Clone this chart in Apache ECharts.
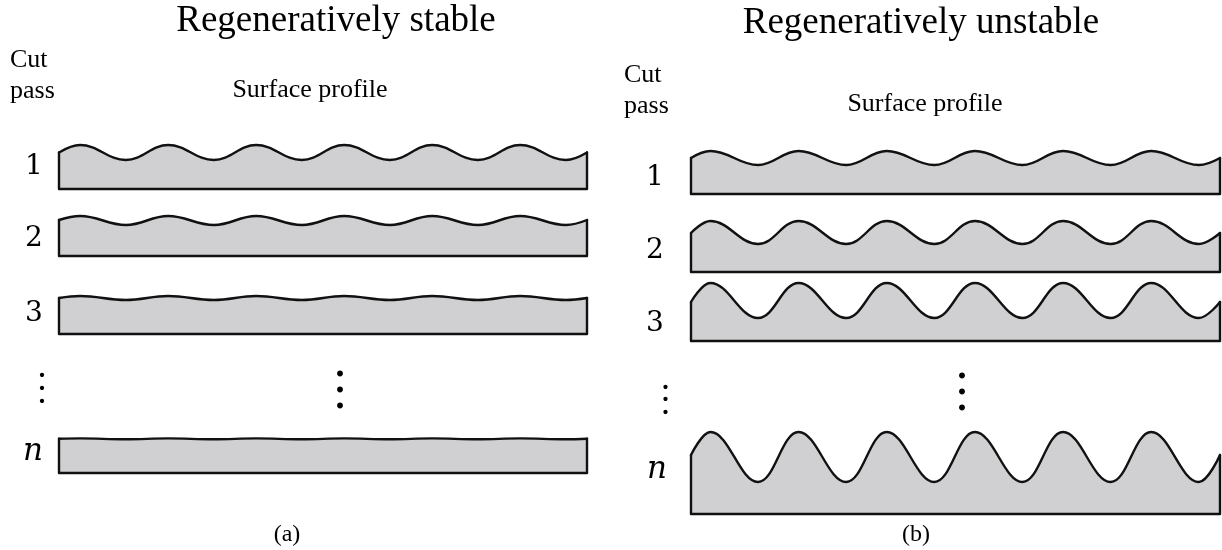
<!DOCTYPE html>
<html><head><meta charset="utf-8">
<script src="https://cdn.jsdelivr.net/npm/echarts@6/dist/echarts.min.js"></script>
<style>html,body{margin:0;padding:0;background:#fff}#c{width:1222px;height:550px}</style>
</head><body><div id="c"></div>
<script>
// ---------------- data ----------------
const passLabels = ['1', '2', '3', 'n'];
// crest / trough positions along each strip (in wavelengths from its left end; strip = 6 wavelengths)
const stableCrestX = [0.24, 1.24, 2.24, 3.24, 4.24, 5.24];
const stableTroughX = [0.76, 1.76, 2.76, 3.76, 4.76, 5.76];
const unstableCrestX = [0.22, 1.22, 2.22, 3.22, 4.22, 5.22];
const unstableTroughX = [0.76, 1.76, 2.76, 3.76, 4.76, 5.76];
// surface height above strip base for cut passes 1, 2, 3, n
const stableCrest = [44, 40, 38, 34.6];
const stableTrough = [29, 31, 34, 33.7];
const stableEdge = [36.5, 36, 36, 34.2];
const unstableCrest = [43, 51, 58, 82];
const unstableTrough = [29, 28, 23, 32];
const unstableEdge = [36, 39, 39, 59];
const stripLength = 6;

// ---------------- layout ----------------
const panels = [
  { left: 59, width: 528, bases: [189, 256, 334, 473],
    crestX: stableCrestX, troughX: stableTroughX, crest: stableCrest, trough: stableTrough, edge: stableEdge },
  { left: 691, width: 529, bases: [194, 272, 341, 514],
    crestX: unstableCrestX, troughX: unstableTroughX, crest: unstableCrest, trough: unstableTrough, edge: unstableEdge }
];
const yMax = 90;
const lw = 2.4;
const grid = [], xAxis = [], yAxis = [], series = [];
panels.forEach(p => {
  p.bases.forEach((base, k) => {
    const gi = grid.length;
    grid.push({ left: p.left, width: p.width, top: base - yMax, height: yMax, containLabel: false });
    xAxis.push({ type: 'value', gridIndex: gi, min: 0, max: stripLength, show: false });
    yAxis.push({ type: 'value', gridIndex: gi, min: 0, max: yMax, show: false });
    const pts = [];
    p.crestX.forEach(x => pts.push([x, p.crest[k]]));
    p.troughX.forEach(x => pts.push([x, p.trough[k]]));
    pts.sort((a, b) => a[0] - b[0]);
    const profile = [[0, p.edge[k]]].concat(pts, [[stripLength, p.edge[k]]]);
    series.push({
      type: 'line', xAxisIndex: gi, yAxisIndex: gi, data: profile, smooth: 0.4,
      symbol: 'none', clip: false, silent: true, z: 2,
      lineStyle: { color: '#111', width: lw, join: 'round', cap: 'round' },
      areaStyle: { color: '#d0cfd1', opacity: 1, origin: 'start' }
    });
    series.push({
      type: 'line', xAxisIndex: gi, yAxisIndex: gi,
      data: [[0, p.edge[k]], [0, 0], [stripLength, 0], [stripLength, p.edge[k]]],
      symbol: 'none', clip: false, silent: true, z: 3,
      lineStyle: { color: '#111', width: lw, join: 'round', cap: 'round' }
    });
  });
});

function txt(text, x, y, size, opts) {
  opts = opts || {};
  const style = {
    text: text, x: x, y: y,
    font: (opts.italic ? 'italic ' : '') + size + 'px ' + (opts.family || '"Liberation Serif", serif'),
    fill: '#000',
    align: opts.align || 'center', verticalAlign: 'middle',
    textAlign: opts.align || 'center', textVerticalAlign: 'middle'
  };
  if (opts.lineHeight) style.lineHeight = opts.lineHeight;
  return { type: 'text', silent: true, z: 10, style: style };
}
const numFont = '"DejaVu Serif", serif';
const vdots = '.\n.\n.';
const graphic = [
  txt('Regeneratively stable', 336, 21, 37),
  txt('Regeneratively unstable', 921, 23, 37),
  txt('Cut', 10, 60, 26, { align: 'left' }),
  txt('pass', 10, 91, 26, { align: 'left' }),
  txt('Surface profile', 310, 90, 26),
  txt('Cut', 624, 75, 26, { align: 'left' }),
  txt('pass', 624, 106, 26, { align: 'left' }),
  txt('Surface profile', 925, 104, 26),
  txt('(a)', 287, 535, 24),
  txt('(b)', 916, 535, 24),
  // pass labels
  txt(passLabels[0], 34, 167, 28, { family: numFont }),
  txt(passLabels[1], 34, 239, 28, { family: numFont }),
  txt(passLabels[2], 34, 314, 28, { family: numFont }),
  txt(passLabels[3], 33, 452, 31, { family: numFont, italic: true }),
  txt(passLabels[0], 655, 178, 28, { family: numFont }),
  txt(passLabels[1], 655, 251, 28, { family: numFont }),
  txt(passLabels[2], 655, 324, 28, { family: numFont }),
  txt(passLabels[3], 657, 470, 31, { family: numFont, italic: true }),
  // vertical ellipses
  txt(vdots, 42, 380.5, 36, { lineHeight: 13 }),
  txt(vdots, 340, 378.5, 50, { lineHeight: 16 }),
  txt(vdots, 665.5, 392, 36, { lineHeight: 12.5 }),
  txt(vdots, 962, 380.5, 50, { lineHeight: 16 })
];

const chart = echarts.init(document.getElementById('c'), null, { renderer: 'canvas' });
chart.setOption({
  animation: false,
  backgroundColor: '#ffffff',
  grid, xAxis, yAxis, series, graphic
});
</script></body></html>
